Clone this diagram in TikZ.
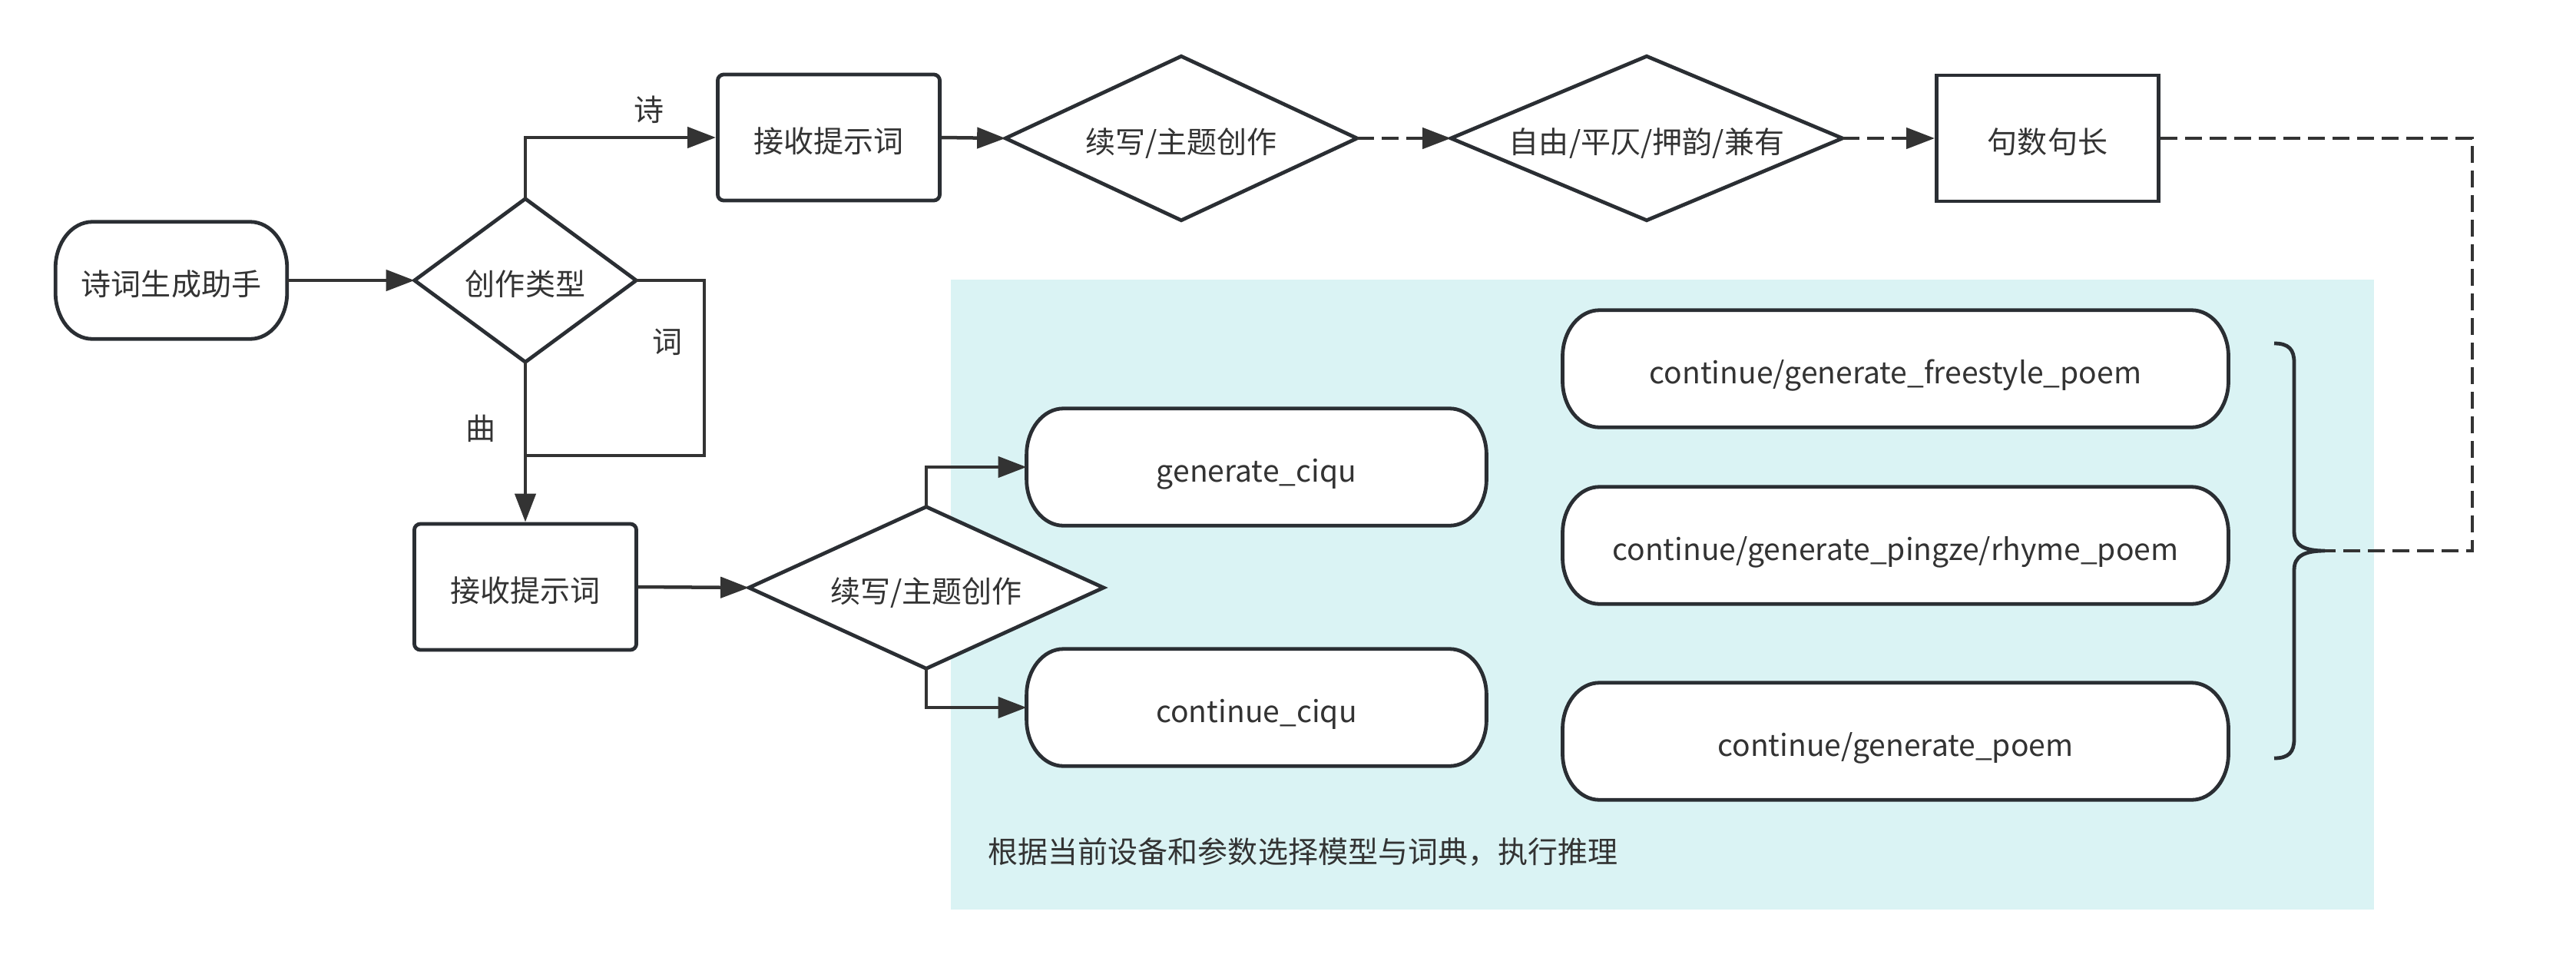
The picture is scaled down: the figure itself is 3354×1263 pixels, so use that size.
\documentclass[tikz,border=0pt]{standalone}
\usepackage{fontspec}
\newfontfamily\cjk{Noto Sans CJK SC}
\usetikzlibrary{arrows.meta}
\definecolor{lc}{HTML}{2A2E33}
\definecolor{tc}{HTML}{333333}
\definecolor{cy}{HTML}{DAF3F4}
\pgfdeclarelayer{bg}
\pgfdeclarelayer{shp}
\pgfsetlayers{bg,shp,main}
\newcommand\termoutline[1]{([xshift=0.48cm]#1.north west) -- ([xshift=-0.48cm]#1.north east)
 .. controls +(0.265cm,0cm) and +(0cm,0.331cm) .. ([yshift=-0.6cm]#1.north east)
 -- ([yshift=0.6cm]#1.south east)
 .. controls +(0cm,-0.331cm) and +(0.265cm,0cm) .. ([xshift=-0.48cm]#1.south east)
 -- ([xshift=0.48cm]#1.south west)
 .. controls +(-0.265cm,0cm) and +(0cm,-0.331cm) .. ([yshift=0.6cm]#1.south west)
 -- ([yshift=-0.6cm]#1.north west)
 .. controls +(0cm,0.331cm) and +(-0.265cm,0cm) .. ([xshift=0.48cm]#1.north west) -- cycle}
\newcommand\diaoutline[1]{(#1.north) -- (#1.east) -- (#1.south) -- (#1.west) -- cycle}
\tikzset{
 txt/.style={font=\cjk\fontsize{11.1pt}{13pt}\selectfont, text=tc, text height=0.45cm, text depth=0.07cm},
 term/.style={txt, inner sep=0pt, minimum height=1.51cm},
 box/.style={txt, draw=lc, line width=0.048cm, fill=white, rounded corners=0.08cm, minimum width=2.89cm, minimum height=1.64cm},
 sqbox/.style={txt, draw=lc, line width=0.048cm, fill=white, minimum width=2.89cm, minimum height=1.64cm},
 dia/.style={txt, inner sep=0pt},
 shapeline/.style={draw=lc, line width=0.048cm, fill=white},
 conn/.style={draw=tc, line width=0.045cm, -{Triangle[length=0.37cm,width=0.27cm]}},
 dconn/.style={conn, dash pattern=on 0.22cm off 0.1cm},
 plain/.style={draw=tc, line width=0.045cm},
 dplain/.style={plain, dash pattern=on 0.22cm off 0.1cm},
}
\begin{document}
\begin{tikzpicture}[x=0.01cm,y=-0.01cm]
\useasboundingbox (0,0) rectangle (3354,1263);
\begin{pgfonlayer}{bg}
\fill[cy] (1238,364) rectangle (3091,1184);
\end{pgfonlayer}
% nodes
\node[term, minimum width=3.0cm] (st) at (223,365) {诗词生成助手};
\node[dia, minimum width=2.87cm, minimum height=2.11cm] (cls) at (684,365) {创作类型};
\node[box] (rcv1) at (1079,179) {接收提示词};
\node[dia, minimum width=4.56cm, minimum height=2.12cm] (d1) at (1538,180) {续写/主题创作};
\node[dia, minimum width=5.08cm, minimum height=2.12cm] (d2) at (2144,180) {自由/平仄/押韵/兼有};
\node[sqbox] (len) at (2666,180) {句数句长};
\node[box] (rcv2) at (684,764) {接收提示词};
\node[dia, minimum width=4.60cm, minimum height=2.09cm] (d3) at (1206,765) {续写/主题创作};
\node[term, minimum width=5.97cm] (gq) at (1636,608) {generate\_ciqu};
\node[term, minimum width=5.97cm] (cq) at (1636,921) {continue\_ciqu};
\node[term, minimum width=8.65cm] (fs) at (2468,480) {continue/generate\_freestyle\_poem};
\node[term, minimum width=8.65cm] (pz) at (2468,710) {continue/generate\_pingze/rhyme\_poem};
\node[term, minimum width=8.65cm] (pm) at (2468,965) {continue/generate\_poem};
\node[txt, anchor=west, inner sep=0pt] (note) at (1286,1104) {根据当前设备和参数选择模型与词典，执行推理};
\node[txt] (lshi) at (845,138) {诗};
\node[txt] (lci) at (869,440) {词};
\node[txt] (lqu) at (626,553) {曲};
% outlines
\begin{pgfonlayer}{shp}
\path[shapeline] \termoutline{st};
\path[shapeline] \termoutline{gq};
\path[shapeline] \termoutline{cq};
\path[shapeline] \termoutline{fs};
\path[shapeline] \termoutline{pz};
\path[shapeline] \termoutline{pm};
\path[shapeline] \diaoutline{cls};
\path[shapeline] \diaoutline{d1};
\path[shapeline] \diaoutline{d2};
\path[shapeline] \diaoutline{d3};
\end{pgfonlayer}
% connectors
\draw[conn] (st.east) -- (cls.west);
\draw[conn] (cls.north) |- (rcv1.west);
\coordinate (cik) at (917,593);
\draw[plain] (cls.east) -| (cik) -- (cls.south |- cik);
\draw[conn] (cls.south) -- (rcv2.north);
\draw[conn] (rcv1.east) -- (d1.west);
\draw[dconn] (d1.east) -- (d2.west);
\draw[dconn] (d2.east) -- (len.west);
\draw[conn] (rcv2.east) -- (d3.west);
\draw[conn] (d3.north) |- (gq.west);
\draw[conn] (d3.south) |- (cq.west);
% brace
\coordinate (tip) at (3027,717);
\draw[draw=lc, line width=0.048cm] (2961,447) .. controls (2980,447) and (2987,455) .. (2987,472) -- (2987,692) .. controls (2987,710) and (3000,717) .. (tip) .. controls (3000,717) and (2987,724) .. (2987,742) -- (2987,962) .. controls (2987,979) and (2980,987) .. (2961,987);
\coordinate (dc1) at (3219,180);
\coordinate (dc2) at (3219,717);
\draw[dplain] (len.east) -- (dc1) -- (dc2) -- (tip);
\end{tikzpicture}
\end{document}
